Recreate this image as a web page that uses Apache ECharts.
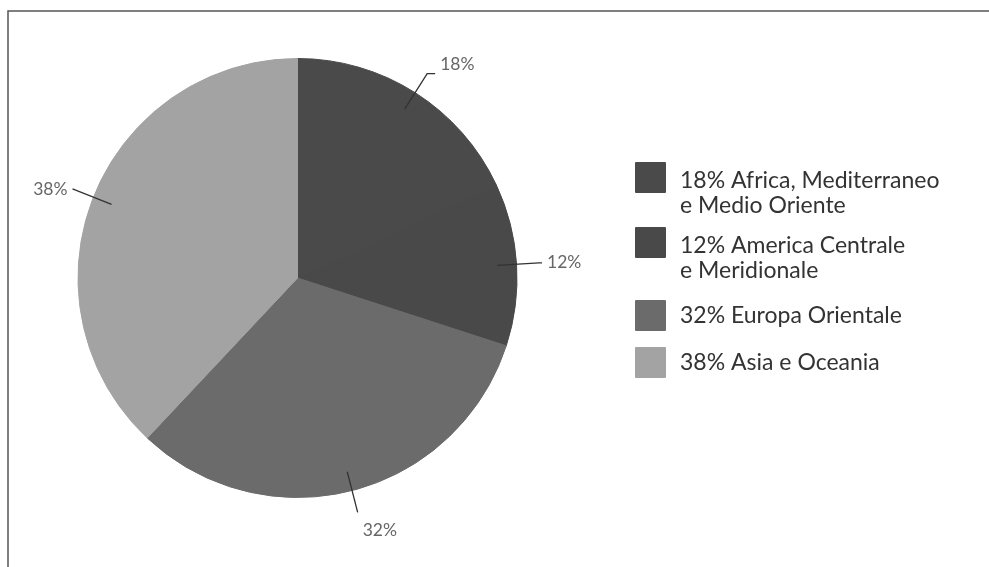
<!DOCTYPE html>
<html>
<head>
<meta charset="utf-8">
<script src="https://cdn.jsdelivr.net/npm/echarts@6/dist/echarts.min.js"></script>
<style>
html,body{margin:0;padding:0;background:#fff;}
#chart{width:989px;height:567px;}
</style>
</head>
<body>
<div id="chart"></div>
<script>
// ---- data ----
const regions = ['Africa, Mediterraneo e Medio Oriente', 'America Centrale e Meridionale', 'Europa Orientale', 'Asia e Oceania'];
const shares = [18, 12, 32, 38];
const legendLabels = ['18% Africa, Mediterraneo\ne Medio Oriente', '12% America Centrale\ne Meridionale', '32% Europa Orientale', '38% Asia e Oceania'];
const sliceColors = ['#4a4a4a', '#494949', '#6b6b6b', '#a3a3a3'];

// ---- layout / style ----
const center = [297.5, 278];
const legendTops = [137, 202, 300, 347];
// vertical nudge of each percentage label: negative = up, positive = down (in half-line steps)
const labelShift = [-1, 0, 2, 0];
const labelTail = [8, 3, 0, 0];

const chart = echarts.init(document.getElementById('chart'), null, {renderer: 'canvas'});

const legends = regions.map((name, i) => {
  const lines = legendLabels[i].split('\n');
  const twoLine = lines.length > 1;
  return {
    orient: 'vertical',
    left: 635,
    top: legendTops[i],
    padding: 0,
    itemWidth: 29,
    itemHeight: 29,
    icon: 'rect',
    selectedMode: false,
    data: [name],
    formatter: () => twoLine
      ? '{e| }\n' + lines.map(l => '{t|' + l + '}').join('\n')
      : legendLabels[i],
    textStyle: {
      fontFamily: 'Lato',
      fontSize: 23,
      color: '#333',
      lineHeight: 25,
      padding: [0, 0, 0, 10],
      rich: {
        e: {fontFamily: 'Lato', fontSize: 23, lineHeight: 31, color: '#333'},
        t: {fontFamily: 'Lato', fontSize: 23, lineHeight: 25, color: '#333'}
      }
    }
  };
});

function pctLabel(p) {
  const s = labelShift[p.dataIndex];
  const t = p.value + '%';
  if (s < 0) return t + '\n ';
  if (s > 0) return ' \n'.repeat(s) + t;
  return t;
}

const option = {
  backgroundColor: '#fff',
  animation: false,
  color: sliceColors,
  legend: legends,
  graphic: [{
    type: 'rect',
    shape: {x: 8, y: 11, width: 1100, height: 700},
    style: {fill: 'none', stroke: '#555', lineWidth: 1.5},
    silent: true,
    z: 0
  }],
  series: [
    {
      type: 'pie',
      center: center,
      radius: 219.5,
      startAngle: 90,
      clockwise: true,
      label: {show: false},
      labelLine: {show: false},
      data: regions.map((n, i) => ({
        name: n,
        value: shares[i],
        itemStyle: {color: sliceColors[i], borderColor: sliceColors[i], borderWidth: 1}
      }))
    },
    {
      type: 'pie',
      center: center,
      radius: 200,
      startAngle: 90,
      clockwise: true,
      silent: true,
      avoidLabelOverlap: false,
      z: 3,
      itemStyle: {color: 'rgba(0,0,0,0)', borderWidth: 0},
      label: {
        show: true,
        position: 'outside',
        formatter: pctLabel,
        fontFamily: 'Lato',
        fontSize: 17.5,
        lineHeight: 18,
        color: '#666',
        distanceToLabelLine: 5
      },
      labelLine: {
        show: true,
        length: 42,
        length2: 0,
        smooth: false,
        lineStyle: {color: '#333', width: 1.3}
      },
      data: regions.map((n, i) => ({
        name: n,
        value: shares[i],
        labelLine: {length2: labelTail[i]}
      }))
    }
  ]
};
chart.setOption(option);
</script>
</body>
</html>
